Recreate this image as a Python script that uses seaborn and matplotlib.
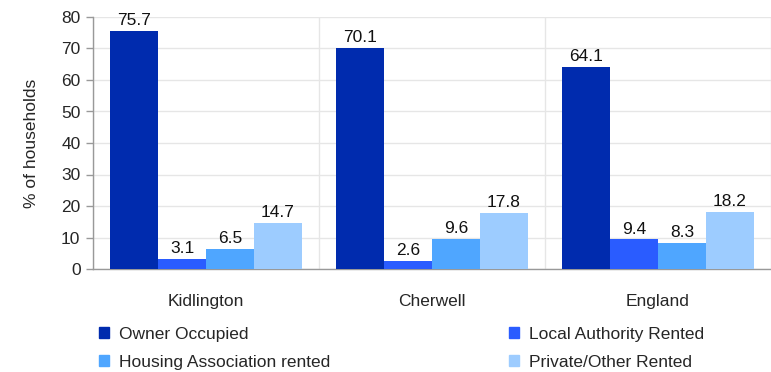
import pandas as pd
import matplotlib
matplotlib.use("Agg")
import matplotlib.pyplot as plt
import seaborn as sns

# Data
areas = ["Kidlington", "Cherwell", "England"]
tenures = ["Owner Occupied", "Local Authority Rented",
           "Housing Association rented", "Private/Other Rented"]
owner_occupied = [75.7, 70.1, 64.1]
local_authority = [3.1, 2.6, 9.4]
housing_association = [6.5, 9.6, 8.3]
private_other = [14.7, 17.8, 18.2]
colors = ["#002BAE", "#2A5CFF", "#4FA6FF", "#9DCCFF"]

values = [owner_occupied, local_authority, housing_association, private_other]
rows = []
for tenure, vals in zip(tenures, values):
    for area, v in zip(areas, vals):
        rows.append({"Area": area, "Tenure": tenure, "Value": v})
df = pd.DataFrame(rows)

sns.set_style("white")
plt.rcParams["font.family"] = ["Liberation Sans", "DejaVu Sans"]
fs = 12.5

fig = plt.figure(figsize=(7.71, 3.72), dpi=100)
ax = fig.add_axes([93 / 771, 103 / 372, 1 - 93 / 771, 252 / 372])

sns.barplot(data=df, x="Area", y="Value", hue="Tenure", hue_order=tenures,
            palette=colors, width=0.85, gap=0, saturation=1, ax=ax,
            legend=False, linewidth=0, zorder=3)

for cont in ax.containers:
    ax.bar_label(cont, fmt="%.1f", fontsize=fs, padding=2, color="#111111")

ax.set_ylim(0, 80)
ax.set_yticks(range(0, 81, 10))
ax.set_xlim(-0.5, 2.474)
ax.set_xlabel("")
ax.set_ylabel("% of households", fontsize=fs, labelpad=16)

ax.set_xticks([-0.5, 0.5, 1.5, 2.5], minor=True)
ax.tick_params(axis="x", which="major", length=0, pad=18, labelsize=fs)
ax.tick_params(axis="x", which="minor", length=5, color="#999999", width=1)
ax.tick_params(axis="y", length=5, color="#999999", width=1, labelsize=fs,
               left=True, pad=4)

ax.grid(axis="y", color="#e6e6e6", linewidth=1, zorder=0)
ax.grid(axis="x", which="minor", color="#e6e6e6", linewidth=1, zorder=0)
ax.grid(axis="x", which="major", visible=False)

for s in ["top", "right"]:
    ax.spines[s].set_visible(False)
for s in ["left", "bottom"]:
    ax.spines[s].set_color("#999999")
    ax.spines[s].set_linewidth(1)

# legend filled column by column: left column Owner/Housing, right Local/Private
order = [0, 2, 1, 3]
handles = [plt.Rectangle((0, 0), 1, 1, color=colors[i]) for i in order]
labels = [tenures[i] for i in order]
fig.legend(handles, labels, loc="upper left", ncol=2,
           bbox_to_anchor=(99 / 771, 1 - 327 / 372), frameon=False,
           fontsize=fs, handlelength=0.6, handleheight=0.6,
           handletextpad=0.55, columnspacing=10.3, labelspacing=0.75,
           borderpad=0, borderaxespad=0)

fig.savefig("out.png", dpi=100)
